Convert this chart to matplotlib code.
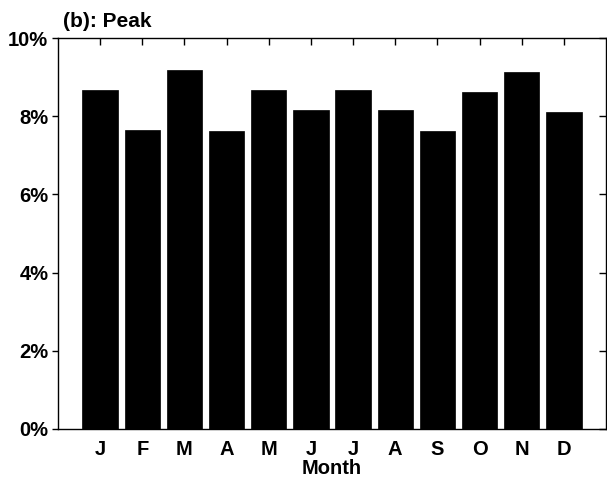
import matplotlib
matplotlib.use("Agg")
import matplotlib.pyplot as plt
import numpy as np

MONTHS = ["J", "F", "M", "A", "M", "J", "J", "A", "S", "O", "N", "D"]
PEAK_PCT = [8.67, 7.65, 9.17, 7.63, 8.66, 8.15, 8.66, 8.15, 7.62, 8.63, 9.14, 8.12]
Y_TICKS = [0, 2, 4, 6, 8, 10]

plt.rcParams["font.family"] = ["Liberation Sans", "DejaVu Sans"]
plt.rcParams["font.weight"] = "bold"

fig = plt.figure(figsize=(6.07, 4.8), dpi=100)
ax = fig.add_axes([58 / 607, 1 - 429 / 480, 548 / 607, 391 / 480])

x = np.arange(1, len(MONTHS) + 1)
ax.bar(x, PEAK_PCT, width=0.84, color="black", edgecolor="black", linewidth=0.5)

ax.set_xlim(0, 13)
ax.set_ylim(0, 10)
ax.set_xticks(x)
ax.set_xticklabels(MONTHS, fontsize=14.5, fontweight="bold")
ax.set_yticks(Y_TICKS)
ax.set_yticklabels([f"{v}%" for v in Y_TICKS], fontsize=14.5, fontweight="bold")

ax.tick_params(axis="x", which="both", bottom=False, top=True, direction="in",
               length=5, width=1, pad=8)
ax.tick_params(axis="y", which="both", left=True, right=True, direction="out",
               length=4, width=1, pad=3)
# right-hand ticks point inward
for t in ax.yaxis.get_major_ticks():
    t.tick2line.set_marker(matplotlib.lines.TICKLEFT)
    t.tick2line.set_markersize(5)

for s in ax.spines.values():
    s.set_linewidth(1)

ax.set_xlabel("Month", fontsize=14.5, fontweight="bold", labelpad=0)
fig.text(63 / 607, 1 - 27 / 480, "(b): Peak", fontsize=15, fontweight="bold",
         ha="left", va="baseline")

fig.savefig("out.png", dpi=100)
